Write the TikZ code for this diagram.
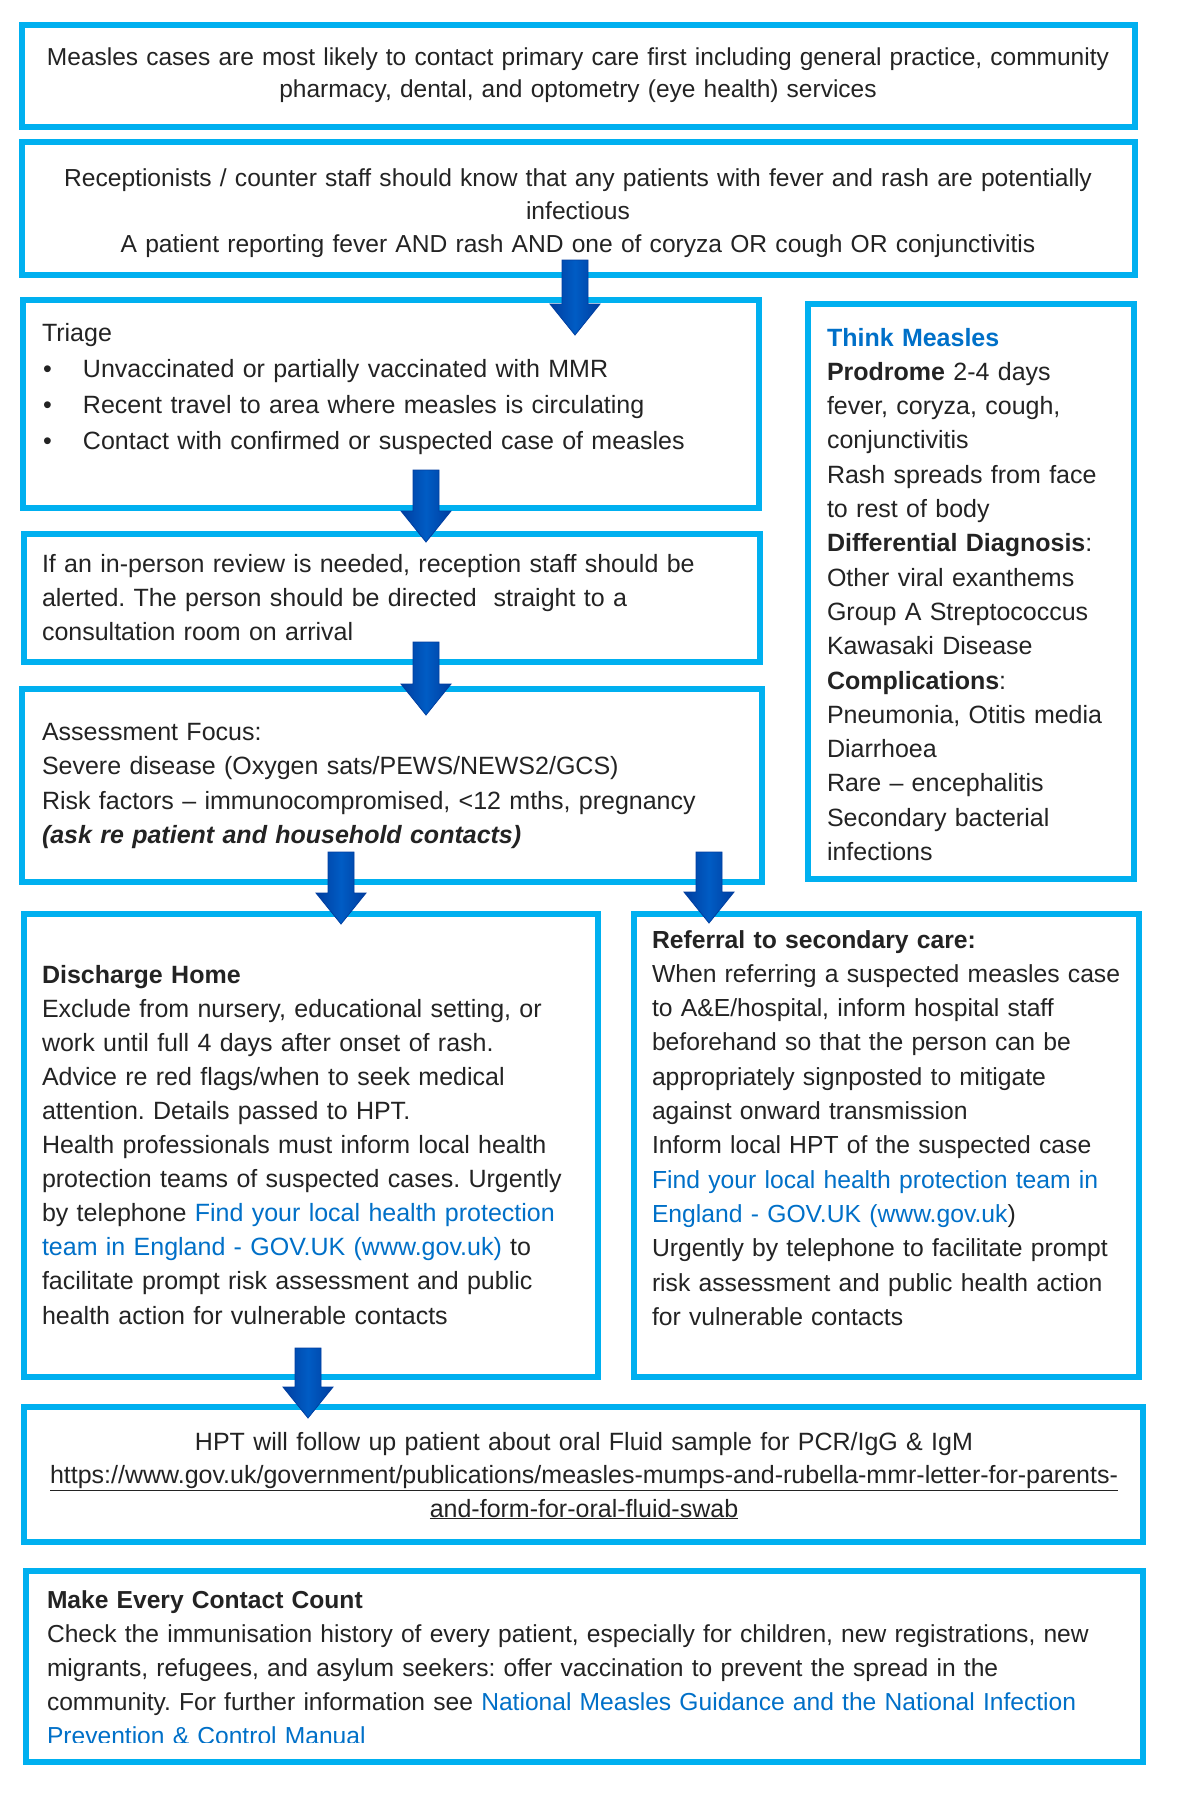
\documentclass[tikz,border=0pt]{standalone}
\usepackage{fontspec}
\setmainfont{Liberation Sans}
\usetikzlibrary{fit,calc}
\definecolor{boxblue}{RGB}{0,176,240}
\definecolor{arrowblue}{RGB}{0,92,196}
\definecolor{arrowdark}{RGB}{0,62,160}
\definecolor{linkblue}{RGB}{0,112,200}
\definecolor{txt}{RGB}{35,35,35}
\newcommand\lk[1]{\textcolor{linkblue}{#1}}
\newcommand\fsz[2]{\fontsize{#1pt}{#2pt}\selectfont\frenchspacing}
\frenchspacing
\begin{document}
\begin{tikzpicture}[x=1pt,y=-1pt,
  box/.style={draw=boxblue, line width=6pt, inner sep=0pt, outer sep=0pt, rectangle},
  txtl/.style={anchor=base west, inner sep=0pt, outer sep=0pt, align=left, text width=#1, text=txt},
  txtc/.style={anchor=base, inner sep=0pt, outer sep=0pt, align=center, text width=#1, text=txt},
  blockarrow/.style={to path={let \p1=(\tikztostart), \p2=(\tikztotarget) in
    (\x1-13pt,\y1) -- (\x1+13pt,\y1) -- (\x1+13pt,\y2+31pt) -- (\x1+25pt,\y2+31pt)
    -- (\x1,\y2) -- (\x1-25pt,\y2+31pt) -- (\x1-13pt,\y2+31pt) -- cycle}},
  arrowfill/.style={left color=arrowdark, right color=arrowdark, middle color=arrowblue,
    draw=arrowdark, line width=0.8pt, line join=miter}
]
\fill[white] (0,0) rectangle (1176,1800);
\useasboundingbox (0,0) rectangle (1176,1800);

% boxes
\node[box, fit={(22,25) (1135,127)}] (b1) {};
\node[box, fit={(22,142) (1135,275)}] (b2) {};
\node[box, fit={(23,300) (759,508)}] (triage) {};
\node[box, fit={(808,304) (1134,879)}] (think) {};
\node[box, fit={(24,534) (760,662)}] (inperson) {};
\node[box, fit={(22,689) (762,882)}] (assess) {};
\node[box, fit={(24,914) (598,1377)}] (discharge) {};
\node[box, fit={(634,914) (1139,1377)}] (referral) {};
\node[box, fit={(24,1407) (1143,1542)}] (hpt) {};
\node[box, fit={(26,1571) (1143,1762)}] (mecc) {};

% texts
\node[txtc=1150, font=\fsz{24.5}{32}] (t1) at (578,65)
 {Measles cases are most likely to contact primary care first including general practice, community\\
  pharmacy, dental, and optometry (eye health) services};

\node[txtc=1150, font=\fsz{24.6}{33}] (t2) at (578,186)
 {Receptionists / counter staff should know that any patients with fever and rash are potentially\\
  infectious\\
  A patient reporting fever AND rash AND one of coryza OR cough OR conjunctivitis};

\node[txtl=720, font=\fsz{25}{36}] (ttriage) at (42,341)
 {Triage\\
  \makebox[41pt][l]{\hspace{1pt}•}Unvaccinated or partially vaccinated with MMR\\
  \makebox[41pt][l]{\hspace{1pt}•}Recent travel to area where measles is circulating\\
  \makebox[41pt][l]{\hspace{1pt}•}Contact with confirmed or suspected case of measles};

\node[txtl=320, font=\fsz{25}{34.3}] (tthink) at (827,346)
 {\textbf{\lk{Think Measles}}\\
  \textbf{Prodrome} 2-4 days\\
  fever, coryza, cough,\\
  conjunctivitis\\
  Rash spreads from face\\
  to rest of body\\
  \textbf{Differential Diagnosis}:\\
  Other viral exanthems\\
  Group A Streptococcus\\
  Kawasaki Disease\\
  \textbf{Complications}:\\
  Pneumonia, Otitis media\\
  Diarrhoea\\
  Rare – encephalitis\\
  Secondary bacterial\\
  infections};

\node[txtl=720, font=\fsz{25}{34}] (tinperson) at (42,572)
 {If an in-person review is needed, reception staff should be\\
  alerted. The person should be directed\ \ straight to a\\
  consultation room on arrival};

\node[txtl=720, font=\fsz{25}{34.5}] (tassess) at (42,740)
 {Assessment Focus:\\
  Severe disease (Oxygen sats/PEWS/NEWS2/GCS)\\
  Risk factors – immunocompromised, <12 mths, pregnancy\\
  \textbf{\textit{(ask re patient and household contacts)}}};

\node[txtl=560, font=\fsz{25}{34.1}] (tdischarge) at (42,983)
 {\textbf{Discharge Home}\\
  Exclude from nursery, educational setting, or\\
  work until full 4 days after onset of rash.\\
  Advice re red flags/when to seek medical\\
  attention. Details passed to HPT.\\
  Health professionals must inform local health\\
  protection teams of suspected cases. Urgently\\
  by telephone \lk{Find your local health protection}\\
  \lk{team in England - GOV.UK (www.gov.uk)} to\\
  facilitate prompt risk assessment and public\\
  health action for vulnerable contacts};

\node[txtl=500, font=\fsz{24.7}{34.3}] (treferral) at (652,948)
 {\textbf{Referral to secondary care:}\\
  When referring a suspected measles case\\
  to A\&E/hospital, inform hospital staff\\
  beforehand so that the person can be\\
  appropriately signposted to mitigate\\
  against onward transmission\\
  Inform local HPT of the suspected case\\
  \lk{Find your local health protection team in}\\
  \lk{England - GOV.UK (www.gov.uk}{)}\\
  Urgently by telephone to facilitate prompt\\
  risk assessment and public health action\\
  for vulnerable contacts};

\node[txtc=1150, font=\fsz{25}{33.5}] (thpt) at (584,1450)
 {HPT will follow up patient about oral Fluid sample for PCR/IgG \& IgM\\
  \underline{https://www.gov.uk/government/publications/measles-mumps-and-rubella-mmr-letter-for-parents-}\\
  \underline{and-form-for-oral-fluid-swab}};

\begin{scope}
\clip (0,0) rectangle (1176,1742);
\node[txtl=1100, font=\fsz{24.6}{34}] (tmecc) at (47,1608)
 {\textbf{Make Every Contact Count}\\
  Check the immunisation history of every patient, especially for children, new registrations, new\\
  migrants, refugees, and asylum seekers: offer vaccination to prevent the spread in the\\
  community. For further information see \lk{National Measles Guidance and the National Infection}\\
  \lk{Prevention \& Control Manual}};
\end{scope}

% block arrows
\draw[arrowfill] ($(b2.south west)+(553,-15)$) to[blockarrow] ($(triage.north west)+(552,35)$);
\draw[arrowfill] ($(triage.south west)+(403,-38)$) to[blockarrow] ($(inperson.north west)+(402,8)$);
\draw[arrowfill] ($(inperson.south west)+(402,-20)$) to[blockarrow] ($(assess.north west)+(404,26)$);
\draw[arrowfill] ($(assess.south west)+(319,-30)$) to[blockarrow] ($(discharge.north west)+(317,10)$);
\draw[arrowfill] ($(assess.south west)+(687,-30)$) to[blockarrow] ($(referral.north west)+(75,9)$);
\draw[arrowfill] ($(discharge.south west)+(284,-29)$) to[blockarrow] ($(hpt.north west)+(284,11)$);
\end{tikzpicture}
\end{document}
